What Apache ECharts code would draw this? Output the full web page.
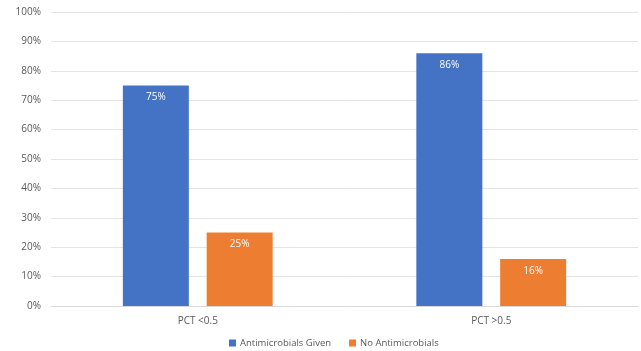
<!DOCTYPE html>
<html>
<head>
<meta charset="utf-8">
<script src="https://cdn.jsdelivr.net/npm/echarts@6/dist/echarts.min.js"></script>
<style>
html,body{margin:0;padding:0;background:#fff;}
#chart{width:641px;height:351px;}
</style>
</head>
<body>
<div id="chart"></div>
<script>
// Share of patients (%) by procalcitonin group
const categories = ['PCT <0.5', 'PCT >0.5'];
const antimicrobialsGiven = [75, 86];
const noAntimicrobials = [25, 16];
const yTicks = [0, 10, 20, 30, 40, 50, 60, 70, 80, 90, 100];

const chart = echarts.init(document.getElementById('chart'), null, {renderer: 'canvas'});
const font = '"Open Sans", "Noto Sans", sans-serif';
const labelStyle = {
  show: true,
  position: 'insideTop',
  distance: 7,
  color: '#ffffff',
  fontSize: 10,
  fontFamily: font,
  formatter: p => p.value + '%'
};

chart.setOption({
  animation: false,
  textStyle: {fontFamily: font},
  grid: {left: 51, right: 3, top: 12, bottom: 45, containLabel: false},
  legend: {
    top: 338,
    left: 229,
    padding: [0, 0, 0, 0],
    itemWidth: 7,
    itemHeight: 7,
    itemGap: 18,
    icon: 'rect',
    textStyle: {color: '#595959', fontSize: 9.5, fontFamily: font, padding: [0, 0, 0, -1]}
  },
  xAxis: {
    type: 'category',
    data: categories,
    axisLine: {show: true, lineStyle: {color: '#d9d9d9'}},
    axisTick: {show: false},
    axisLabel: {color: '#595959', fontSize: 10, margin: 10, fontFamily: font}
  },
  yAxis: {
    type: 'value',
    min: yTicks[0],
    max: yTicks[yTicks.length - 1],
    interval: 10,
    axisLine: {show: false},
    axisTick: {show: false},
    axisLabel: {color: '#595959', fontSize: 10, margin: 10, fontFamily: font, formatter: v => v + '%'},
    splitLine: {lineStyle: {color: '#e4e4e4'}}
  },
  series: [
    {
      name: 'Antimicrobials Given',
      type: 'bar',
      data: antimicrobialsGiven,
      barWidth: 66,
      barGap: '27%',
      itemStyle: {color: '#4472c4'},
      label: labelStyle
    },
    {
      name: 'No Antimicrobials',
      type: 'bar',
      data: noAntimicrobials,
      barWidth: 66,
      itemStyle: {color: '#ed7d31'},
      label: labelStyle
    }
  ]
});
</script>
</body>
</html>
